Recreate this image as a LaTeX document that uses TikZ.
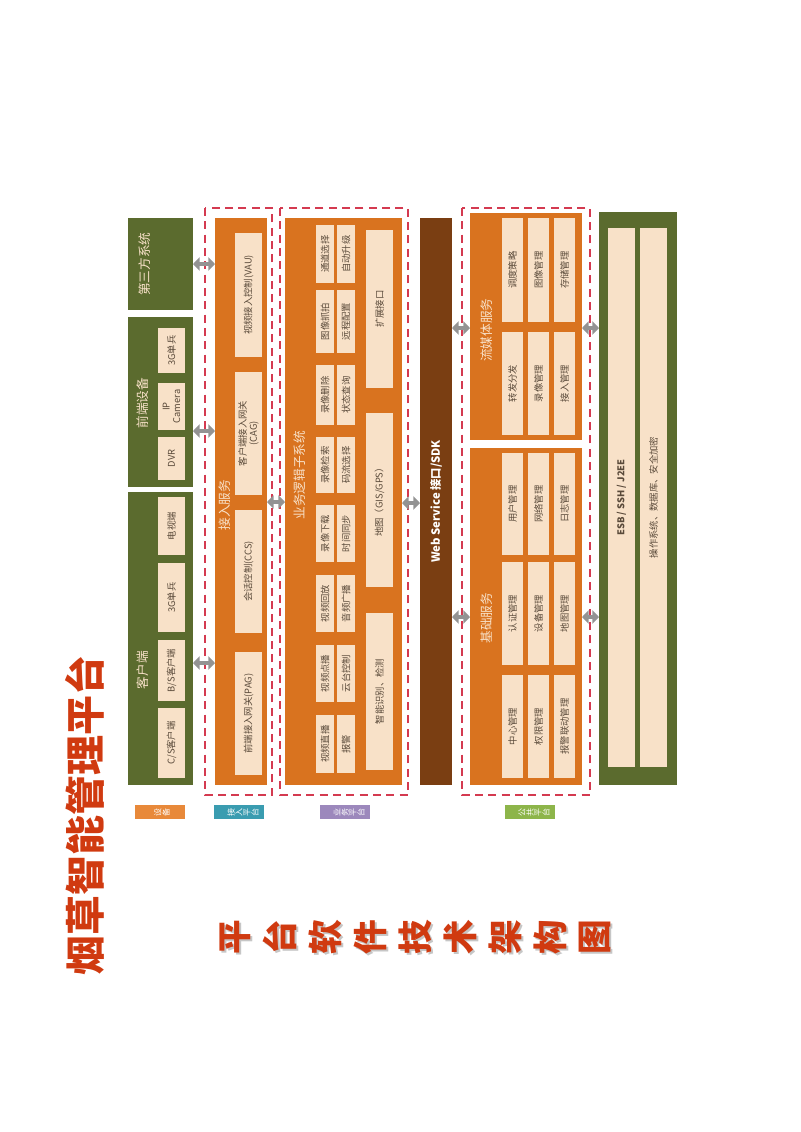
\documentclass[tikz,border=0pt]{standalone}
\usepackage{fontspec}
\setmainfont{Noto Sans CJK SC}
\usetikzlibrary{arrows.meta}
\definecolor{olive}{HTML}{5B6B2E}
\definecolor{orng}{HTML}{D9731F}
\definecolor{lite}{HTML}{F8E1C8}
\definecolor{brwn}{HTML}{7A3E12}
\definecolor{dred}{HTML}{D43A50}
\definecolor{ttl}{HTML}{D03A10}
\definecolor{lgor}{HTML}{E8893A}
\definecolor{lgte}{HTML}{3A9CB0}
\definecolor{lgpu}{HTML}{9C88BC}
\definecolor{lggr}{HTML}{8DB54A}
\definecolor{txt}{HTML}{5A4A3A}
\newcommand\bx[7]{\node[#7, rotate=90, minimum width={(#5-#3)*0.75pt}, minimum height={(#4-#2)*0.75pt}] (#1) at ({(#2+#4)/2},{(#3+#5)/2}) {#6};}
\tikzset{
 base/.style={inner sep=0pt, outer sep=0pt, align=center},
 grn/.style={base, fill=olive},
 org/.style={base, fill=orng},
 lt/.style={base, fill=lite, text=txt, font=\fontsize{7}{8}\selectfont},
 brn/.style={base, fill=brwn, text=white, font=\bfseries\fontsize{8.5}{10}\selectfont},
 dbox/.style={base, draw=dred, line width=1pt, dash pattern=on 6pt off 4pt},
 ttxt/.style={base, rotate=90, text=lite, font=\fontsize{9.5}{11}\selectfont},
 arr/.style={line width=3pt, draw=gray!85, {Triangle[width=10pt,length=5pt]}-{Triangle[width=10pt,length=5pt]}},
 lg/.style={base, minimum width=38pt, minimum height=11pt},
 lgc/.style={base, rotate=90, text=white, font=\fontsize{6}{6}\selectfont},
 bigc/.style={base, rotate=90, font=\bfseries\fontsize{26}{26}\selectfont},
}
\begin{document}
\begin{tikzpicture}[x=0.75pt,y=-0.75pt]
\useasboundingbox (0,0) rectangle (800,1132);
% column 1
\bx{ds}{128}{218}{193}{310}{}{grn}
\node[ttxt] (dst) at (145,264) {第三方系统};
\bx{qd}{128}{317}{193}{487}{}{grn}
\node[ttxt] (qdt) at (143,403) {前端设备};
\bx{q3}{158}{328}{185}{373}{3G单兵}{lt}
\bx{qi}{158}{383}{185}{430}{IP\\Camera}{lt}
\bx{qv}{158}{437}{185}{480}{DVR}{lt}
\bx{kh}{128}{492}{193}{785}{}{grn}
\node[ttxt] (kht) at (143,670) {客户端};
\bx{k1}{158}{497}{185}{555}{电视端}{lt}
\bx{k2}{158}{563}{185}{632}{3G单兵}{lt}
\bx{k3}{158}{640}{185}{701}{B/S客户端}{lt}
\bx{k4}{158}{708}{185}{778}{C/S客户端}{lt}
% access
\bx{dj}{205}{208}{272}{795}{}{dbox}
\bx{jr}{215}{218}{267}{785}{}{org}
\node[ttxt] (jrt) at (225,505) {接入服务};
\bx{j1}{235}{233}{262}{357}{视频接入控制(VAU)}{lt}
\bx{j2}{235}{372}{262}{495}{客户端接入网关\\(CAG)}{lt}
\bx{j3}{235}{510}{262}{633}{会话控制(CCS)}{lt}
\bx{j4}{235}{652}{262}{775}{前端接入网关(PAG)}{lt}
% business
\bx{dy}{280}{208}{408}{795}{}{dbox}
\bx{yw}{285}{218}{402}{785}{}{org}
\node[ttxt] (ywt) at (300,475) {业务逻辑子系统};
\bx{a1}{316}{225}{334}{283}{通道选择}{lt}
\bx{b1}{337}{225}{355}{283}{自动升级}{lt}
\bx{a2}{316}{290}{334}{353}{图像抓拍}{lt}
\bx{b2}{337}{290}{355}{353}{远程配置}{lt}
\bx{a3}{316}{365}{334}{425}{录像删除}{lt}
\bx{b3}{337}{365}{355}{425}{状态查询}{lt}
\bx{a4}{316}{437}{334}{493}{录像检索}{lt}
\bx{b4}{337}{437}{355}{493}{码流选择}{lt}
\bx{a5}{316}{505}{334}{562}{录像下载}{lt}
\bx{b5}{337}{505}{355}{562}{时间同步}{lt}
\bx{a6}{316}{575}{334}{632}{视频回放}{lt}
\bx{b6}{337}{575}{355}{632}{音频广播}{lt}
\bx{a7}{316}{645}{334}{702}{视频点播}{lt}
\bx{b7}{337}{645}{355}{702}{云台控制}{lt}
\bx{a8}{316}{715}{334}{773}{视频直播}{lt}
\bx{b8}{337}{715}{355}{773}{报警}{lt}
\bx{c1}{366}{230}{393}{388}{扩展接口}{lt}
\bx{c2}{366}{413}{393}{587}{地图（GIS/GPS）}{lt}
\bx{c3}{366}{613}{393}{770}{智能识别、检测}{lt}
% web service
\bx{ws}{420}{218}{452}{785}{Web Service 接口/SDK}{brn}
% public
\bx{dg}{462}{208}{590}{795}{}{dbox}
\bx{lm}{470}{213}{582}{440}{}{org}
\node[ttxt] (lmt) at (487,330) {流媒体服务};
\bx{m1}{502}{218}{523}{322}{调度策略}{lt}
\bx{m2}{528}{218}{549}{322}{图像管理}{lt}
\bx{m3}{554}{218}{575}{322}{存储管理}{lt}
\bx{m4}{502}{332}{523}{435}{转发分发}{lt}
\bx{m5}{528}{332}{549}{435}{录像管理}{lt}
\bx{m6}{554}{332}{575}{435}{接入管理}{lt}
\bx{jc}{470}{448}{582}{785}{}{org}
\node[ttxt] (jct) at (487,618) {基础服务};
\bx{n1}{502}{453}{523}{555}{用户管理}{lt}
\bx{n2}{528}{453}{549}{555}{网络管理}{lt}
\bx{n3}{554}{453}{575}{555}{日志管理}{lt}
\bx{n4}{502}{562}{523}{665}{认证管理}{lt}
\bx{n5}{528}{562}{549}{665}{设备管理}{lt}
\bx{n6}{554}{562}{575}{665}{地图管理}{lt}
\bx{n7}{502}{675}{523}{778}{中心管理}{lt}
\bx{n8}{528}{675}{549}{778}{权限管理}{lt}
\bx{n9}{554}{675}{575}{778}{报警联动管理}{lt}
% ESB
\bx{es}{599}{212}{677}{785}{}{grn}
\bx{e1}{608}{228}{635}{767}{\bfseries ESB / SSH / J2EE}{lt}
\bx{e2}{640}{228}{667}{767}{操作系统、数据库、安全加密}{lt}
% arrows
\coordinate (p1) at (193,431);
\coordinate (p2) at (193,663);
\coordinate (p3) at (267,502);
\coordinate (p4) at (402,503);
\coordinate (p5) at (452,328);
\coordinate (p6) at (452,617);
\coordinate (p7) at (582,328);
\coordinate (p8) at (582,617);
\draw[arr] (ds.south) -- (ds.south -| jr.north);
\draw[arr] (p1) -- (p1 -| jr.north);
\draw[arr] (p2) -- (p2 -| jr.north);
\draw[arr] (p3) -- (p3 -| yw.north);
\draw[arr] (p4) -- (p4 -| ws.north);
\draw[arr] (p5) -- (p5 -| lm.north);
\draw[arr] (p6) -- (p6 -| jc.north);
\draw[arr] (p7) -- (p7 -| es.north);
\draw[arr] (p8) -- (p8 -| es.north);
% legend
\node[lg, fill=lgor] (l1) at (160,812) {};
\node[lg, fill=lgte] (l2) at (239,812) {};
\node[lg, fill=lgpu] (l3) at (345,812) {};
\node[lg, fill=lggr] (l4) at (530,812) {};
\foreach \c [count=\i] in {设,备} \node[lgc] (la\i) at (154+\i*8-4,812) {\c};
\foreach \c [count=\i] in {接,入,平,台} \node[lgc] (lb\i) at (227+\i*8-4,812) {\c};
\foreach \c [count=\i] in {业,务,平,台} \node[lgc] (lc\i) at (333+\i*8-4,812) {\c};
\foreach \c [count=\i] in {公,共,平,台} \node[lgc] (ld\i) at (518+\i*8-4,812) {\c};
% titles
\node[base, rotate=90, text=ttl, font=\bfseries\fontsize{30}{30}\selectfont] (t1) at (85,815) {烟草智能管理平台};
\foreach \c [count=\i] in {平,台,软,件,技,术,架,构,图} {
 \node[bigc, text=gray!45] (s\i) at (192+\i*45,939) {\c};
 \node[bigc, text=ttl] (b\i) at (190+\i*45,937) {\c};
}
\end{tikzpicture}
\end{document}
